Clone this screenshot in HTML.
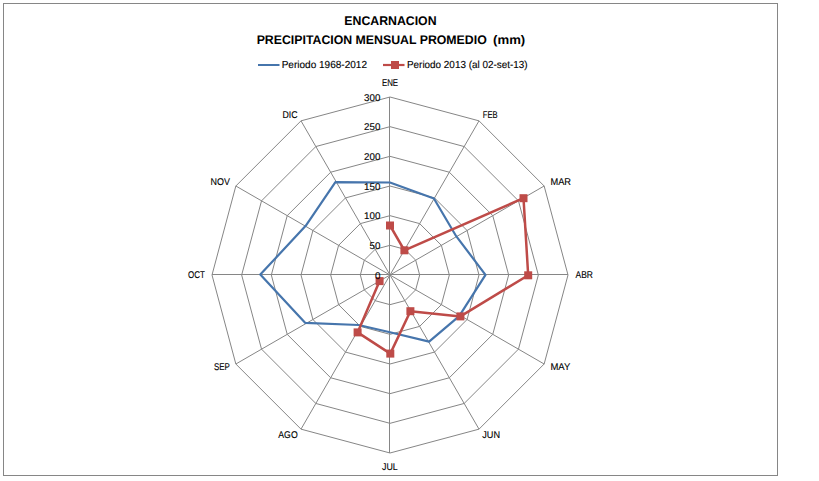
<!DOCTYPE html>
<html><head><meta charset="utf-8"><style>
html,body{margin:0;padding:0;background:#fff;}
body{width:819px;height:481px;overflow:hidden;position:relative;font-family:"Liberation Sans",sans-serif;}
svg{position:absolute;left:0;top:0;}
text{font-family:"Liberation Sans",sans-serif;fill:#000;text-rendering:geometricPrecision;stroke:#000;stroke-width:0.12px;}
text.b{stroke-width:0;}
</style></head><body>
<svg width="819" height="481" viewBox="0 0 819 481">
<rect x="3.5" y="3.5" width="774" height="472" fill="#fff" stroke="#868686" stroke-width="1"/>
<polygon points="390,245.33 404.83,249.31 415.69,260.17 419.67,275 415.69,289.83 404.83,300.69 390,304.67 375.17,300.69 364.31,289.83 360.33,275 364.31,260.17 375.17,249.31" fill="none" stroke="#868686" stroke-width="1"/>
<polygon points="390,215.67 419.67,223.62 441.38,245.33 449.33,275 441.38,304.67 419.67,326.38 390,334.33 360.33,326.38 338.62,304.67 330.67,275 338.62,245.33 360.33,223.62" fill="none" stroke="#868686" stroke-width="1"/>
<polygon points="390,186 434.5,197.92 467.08,230.5 479,275 467.08,319.5 434.5,352.08 390,364 345.5,352.08 312.92,319.5 301,275 312.92,230.5 345.5,197.92" fill="none" stroke="#868686" stroke-width="1"/>
<polygon points="390,156.33 449.33,172.23 492.77,215.67 508.67,275 492.77,334.33 449.33,377.77 390,393.67 330.67,377.77 287.23,334.33 271.33,275 287.23,215.67 330.67,172.23" fill="none" stroke="#868686" stroke-width="1"/>
<polygon points="390,126.67 464.17,146.54 518.46,200.83 538.33,275 518.46,349.17 464.17,403.46 390,423.33 315.83,403.46 261.54,349.17 241.67,275 261.54,200.83 315.83,146.54" fill="none" stroke="#868686" stroke-width="1"/>
<polygon points="390,97 479,120.85 544.15,186 568,275 544.15,364 479,429.15 390,453 301,429.15 235.85,364 212,275 235.85,186 301,120.85" fill="none" stroke="#868686" stroke-width="1"/>
<line x1="389.5" y1="275" x2="389.5" y2="97" stroke="#868686" stroke-width="1"/>
<line x1="390" y1="275" x2="479" y2="120.85" stroke="#868686" stroke-width="1"/>
<line x1="390" y1="275" x2="544.15" y2="186" stroke="#868686" stroke-width="1"/>
<line x1="390" y1="274.5" x2="568" y2="274.5" stroke="#868686" stroke-width="1"/>
<line x1="390" y1="275" x2="544.15" y2="364" stroke="#868686" stroke-width="1"/>
<line x1="390" y1="275" x2="479" y2="429.15" stroke="#868686" stroke-width="1"/>
<line x1="389.5" y1="275" x2="389.5" y2="453" stroke="#868686" stroke-width="1"/>
<line x1="390" y1="275" x2="301" y2="429.15" stroke="#868686" stroke-width="1"/>
<line x1="390" y1="275" x2="235.85" y2="364" stroke="#868686" stroke-width="1"/>
<line x1="390" y1="274.5" x2="212" y2="274.5" stroke="#868686" stroke-width="1"/>
<line x1="390" y1="275" x2="235.85" y2="186" stroke="#868686" stroke-width="1"/>
<line x1="390" y1="275" x2="301" y2="120.85" stroke="#868686" stroke-width="1"/>
<polygon points="390,182.5 433.9,198.5 456.2,236.2 485.5,274.8 459.2,316.2 429.1,341.6 390,332.3 358.6,325 305.1,322.8 260.3,274.6 305.7,225.8 335.4,182.1" fill="none" stroke="#4675AC" stroke-width="2.2" stroke-linejoin="round"/>
<polyline points="390,225.5 404.4,250.3 523.5,198.2 528.2,275.3 460.4,316.4 410.4,311.2 390.3,353.6 357.6,332.4 379.6,281.1" fill="none" stroke="#BE4B48" stroke-width="2.5" stroke-linejoin="round"/>
<rect x="386" y="221.5" width="8" height="8" fill="#BE4B48"/>
<rect x="400.4" y="246.3" width="8" height="8" fill="#BE4B48"/>
<rect x="519.5" y="194.2" width="8" height="8" fill="#BE4B48"/>
<rect x="524.2" y="271.3" width="8" height="8" fill="#BE4B48"/>
<rect x="456.4" y="312.4" width="8" height="8" fill="#BE4B48"/>
<rect x="406.4" y="307.2" width="8" height="8" fill="#BE4B48"/>
<rect x="386.3" y="349.6" width="8" height="8" fill="#BE4B48"/>
<rect x="353.6" y="328.4" width="8" height="8" fill="#BE4B48"/>
<rect x="375.6" y="277.1" width="8" height="8" fill="#BE4B48"/>
<line x1="258" y1="65" x2="279.5" y2="65" stroke="#4675AC" stroke-width="2"/>
<line x1="383" y1="65" x2="404.5" y2="65" stroke="#BE4B48" stroke-width="2.2"/>
<rect x="391" y="61" width="8" height="8" fill="#BE4B48"/>
<text x="381.91" y="85.79" font-size="9.8" textLength="16.19" lengthAdjust="spacingAndGlyphs" xml:space="preserve">ENE</text>
<text x="482.77" y="118.04" font-size="9.8" textLength="14.85" lengthAdjust="spacingAndGlyphs" xml:space="preserve">FEB</text>
<text x="550.51" y="184.94" font-size="9.8" textLength="20.55" lengthAdjust="spacingAndGlyphs" xml:space="preserve">MAR</text>
<text x="575.5" y="277.89" font-size="9.8" textLength="17.38" lengthAdjust="spacingAndGlyphs" xml:space="preserve">ABR</text>
<text x="550.47" y="369.83" font-size="9.8" textLength="19.83" lengthAdjust="spacingAndGlyphs" xml:space="preserve">MAY</text>
<text x="482.26" y="437.76" font-size="9.8" textLength="17.78" lengthAdjust="spacingAndGlyphs" xml:space="preserve">JUN</text>
<text x="381.96" y="469.76" font-size="9.8" textLength="15.74" lengthAdjust="spacingAndGlyphs" xml:space="preserve">JUL</text>
<text x="278.3" y="437.9" font-size="9.8" textLength="19.39" lengthAdjust="spacingAndGlyphs" xml:space="preserve">AGO</text>
<text x="213.93" y="369.71" font-size="9.8" textLength="15.87" lengthAdjust="spacingAndGlyphs" xml:space="preserve">SEP</text>
<text x="187.96" y="277.82" font-size="9.8" textLength="16.81" lengthAdjust="spacingAndGlyphs" xml:space="preserve">OCT</text>
<text x="210.61" y="184.85" font-size="9.8" textLength="19.38" lengthAdjust="spacingAndGlyphs" xml:space="preserve">NOV</text>
<text x="282.53" y="118.1" font-size="9.8" textLength="15.1" lengthAdjust="spacingAndGlyphs" xml:space="preserve">DIC</text>
<text x="380.4" y="278.6" text-anchor="end" font-size="9.8">0</text>
<text x="380.4" y="248.93" text-anchor="end" font-size="9.8">50</text>
<text x="380.4" y="219.27" text-anchor="end" font-size="9.8">100</text>
<text x="380.4" y="189.6" text-anchor="end" font-size="9.8">150</text>
<text x="380.4" y="159.93" text-anchor="end" font-size="9.8">200</text>
<text x="380.4" y="130.27" text-anchor="end" font-size="9.8">250</text>
<text x="380.4" y="100.6" text-anchor="end" font-size="9.8">300</text>
<text x="344.32" y="24.79" font-size="12.6" font-weight="bold" class="b" textLength="92.2" lengthAdjust="spacingAndGlyphs" xml:space="preserve">ENCARNACION</text>
<text x="256.67" y="43.73" font-size="12.5" font-weight="bold" class="b" textLength="230.06" lengthAdjust="spacingAndGlyphs" xml:space="preserve">PRECIPITACION MENSUAL PROMEDIO</text>
<text x="493.12" y="43.57" font-size="12.5" font-weight="bold" class="b" textLength="32.11" lengthAdjust="spacingAndGlyphs" xml:space="preserve">(mm)</text>
<text x="281.64" y="67.9" font-size="10.2" textLength="85.42" lengthAdjust="spacingAndGlyphs" xml:space="preserve">Periodo 1968-2012</text>
<text x="406.97" y="67.69" font-size="10.2" textLength="120.59" lengthAdjust="spacingAndGlyphs" xml:space="preserve">Periodo 2013 (al 02-set-13)</text>
</svg>
</body></html>
